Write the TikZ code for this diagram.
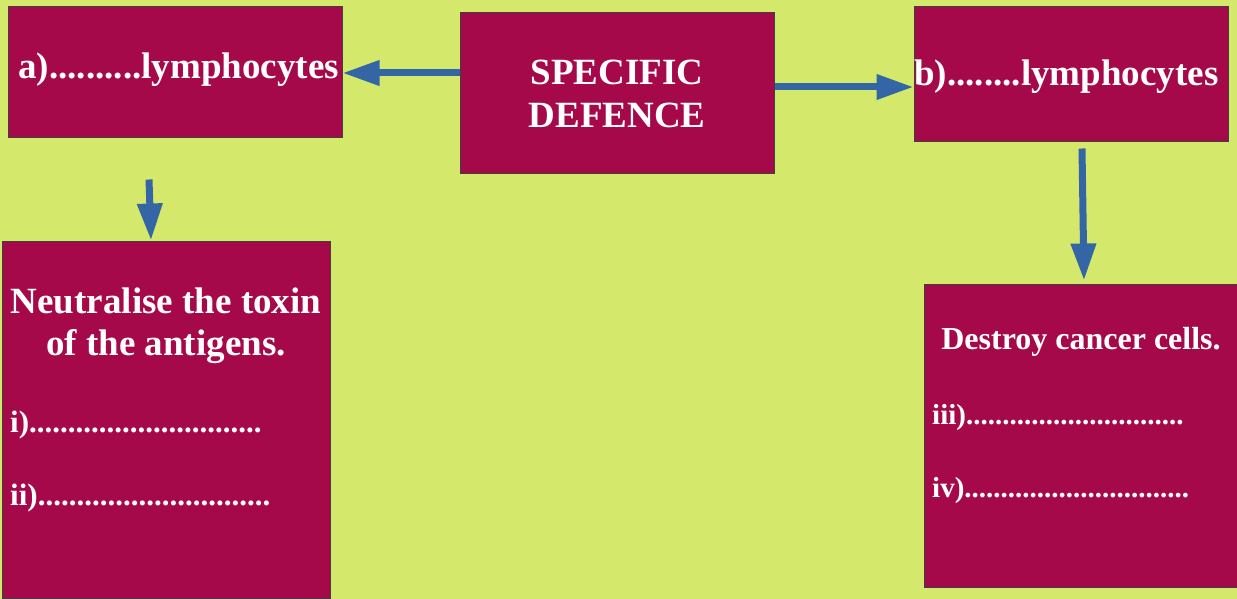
\documentclass[tikz,border=0pt]{standalone}
\usepackage{fontspec}
\setmainfont{Liberation Serif}
\usetikzlibrary{arrows.meta}
\definecolor{bg}{HTML}{D4E96C}
\definecolor{boxc}{HTML}{A6094A}
\definecolor{arrc}{HTML}{3465A4}
\begin{document}
\begin{tikzpicture}[x=1pt,y=-1pt,
  box/.style={draw=black!75, line width=1pt, fill=boxc, inner sep=0pt},
  big/.style={text=white, inner sep=0pt, font=\fontsize{37}{44}\selectfont\bfseries},
  mid/.style={text=white, inner sep=0pt, font=\fontsize{32}{38}\selectfont\bfseries},
  sml/.style={text=white, inner sep=0pt, font=\fontsize{31}{37}\selectfont\bfseries},
  smr/.style={text=white, inner sep=0pt, font=\fontsize{29}{35}\selectfont\bfseries},
  arr/.style={draw=arrc, line width=7pt, -{Triangle[length=37pt,width=24pt]}}]
\fill[bg] (0,0) rectangle (1237,599);
\useasboundingbox (0,0) rectangle (1237,599);
% boxes
\node[box, minimum width=334pt, minimum height=131pt] (a) at (175,72.5) {};
\node[box, minimum width=314pt, minimum height=160pt] (ctr) at (617,93) {};
\node[box, minimum width=314pt, minimum height=135pt] (b) at (1071,74.5) {};
\node[box, minimum width=328pt, minimum height=357pt] (c) at (166,419.5) {};
\node[box, minimum width=316pt, minimum height=303pt] (d) at (1082,435.5) {};
% texts
\node[big, anchor=base west] (ta) at (18,79) {a)..........lymphocytes};
\node[big, anchor=base] (tc1) at (617,85) {SPECIFIC};
\node[big, anchor=base] (tc2) at (617,128) {DEFENCE};
\node[big, anchor=base west] (tb) at (914,86) {b)........lymphocytes};
\node[big, anchor=base] (tn1) at (166,313) {Neutralise the toxin};
\node[big, anchor=base] (tn2) at (166,355) {of the antigens.};
\node[sml, anchor=base west] (ti) at (10,432) {i)..............................};
\node[sml, anchor=base west] (tii) at (10,505) {ii)..............................};
\node[mid, anchor=base] (td) at (1081,349) {Destroy cancer cells.};
\node[smr, anchor=base west] (tiii) at (932,424) {iii)..............................};
\node[smr, anchor=base west] (tiv) at (932,497) {iv)...............................};
% connectors
\draw[arr] ([yshift=20pt]ctr.west) coordinate (p1) -- (p1 -| a.east);
\draw[arr] ([yshift=6pt]ctr.east) coordinate (p2) -- (p2 -| b.west);
\draw[arr] ([xshift=-26pt,yshift=-41pt]a.south) -- ([xshift=-15pt]c.north);
\draw[arr] ([xshift=11pt,yshift=-6pt]b.south) -- ([xshift=2pt,yshift=3pt]d.north);
\end{tikzpicture}
\end{document}
